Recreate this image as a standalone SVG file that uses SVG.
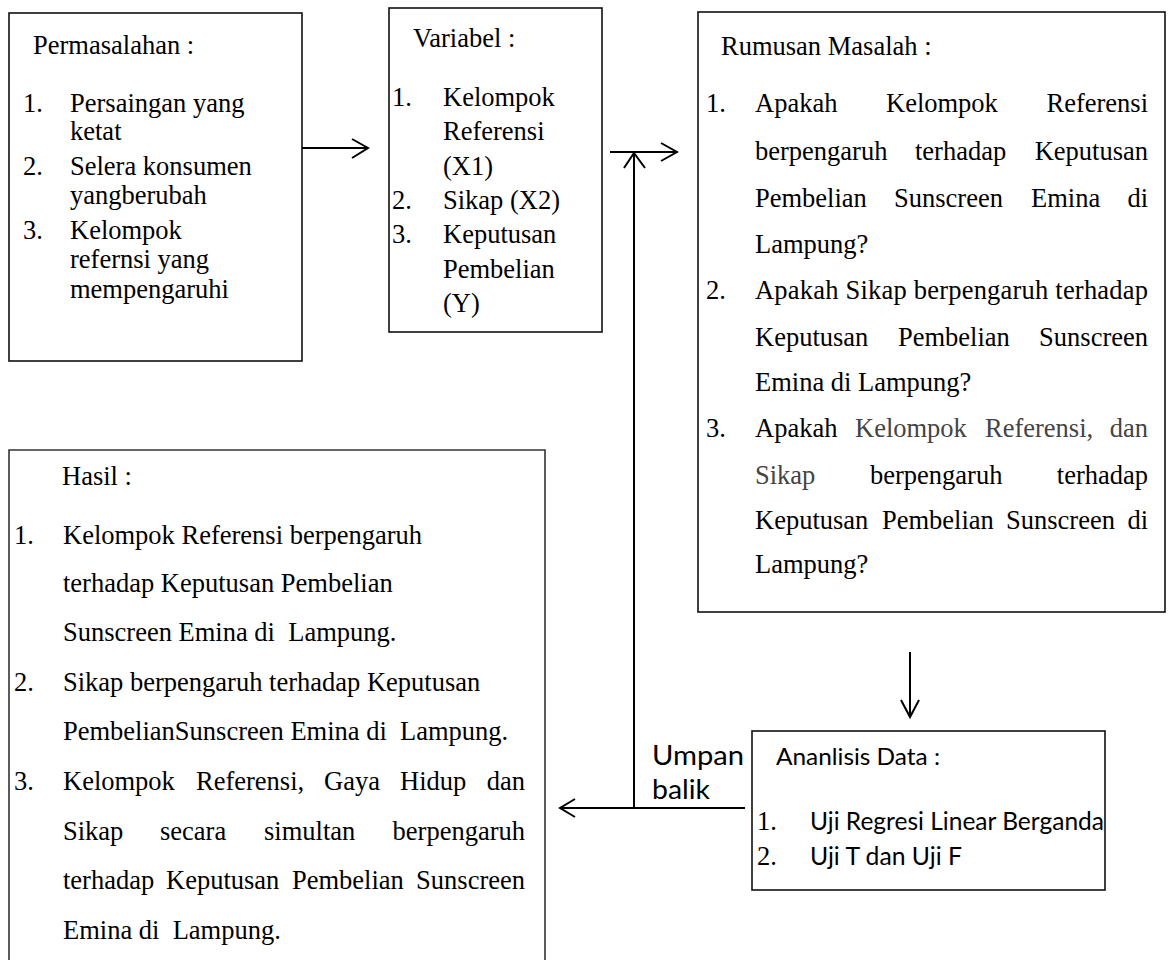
<svg xmlns="http://www.w3.org/2000/svg" width="1169" height="960" viewBox="0 0 1169 960">
<style>
.box{fill:#fff;stroke:#111;stroke-width:1.6}
.t{font-family:"Liberation Serif","Times New Roman",serif;font-size:26.5px;fill:#000;white-space:pre}
.s{font-family:Lato,"Liberation Sans",sans-serif;fill:#000}
.e{text-anchor:end}
.g{fill:#444}
.ln{fill:none;stroke:#000;stroke-width:2}
</style>
<rect width="1169" height="960" fill="#fff"/>
<g id="permasalahan">
<rect class="box" x="9" y="13" width="293" height="348"/>
<text class="t" x="33" y="54">Permasalahan :</text>
<text class="t" x="23" y="112">1.</text><text class="t" x="70" y="112">Persaingan yang</text>
<text class="t" x="70" y="140">ketat</text>
<text class="t" x="23" y="175">2.</text><text class="t" x="70" y="175">Selera konsumen</text>
<text class="t" x="70" y="204">yangberubah</text>
<text class="t" x="23" y="239">3.</text><text class="t" x="70" y="239">Kelompok</text>
<text class="t" x="70" y="268">refernsi yang</text>
<text class="t" x="70" y="298">mempengaruhi</text>
</g>
<g id="variabel">
<rect class="box" x="389" y="8" width="213" height="324"/>
<text class="t" x="413" y="47">Variabel :</text>
<text class="t" x="392" y="106">1.</text><text class="t" x="443" y="106">Kelompok</text>
<text class="t" x="443" y="140">Referensi</text>
<text class="t" x="443" y="175">(X1)</text>
<text class="t" x="392" y="209">2.</text><text class="t" x="443" y="209">Sikap (X2)</text>
<text class="t" x="392" y="243">3.</text><text class="t" x="443" y="243">Keputusan</text>
<text class="t" x="443" y="278">Pembelian</text>
<text class="t" x="443" y="312">(Y)</text>
</g>
<g id="rumusan">
<rect class="box" x="698" y="12" width="467" height="600"/>
<text class="t" x="721" y="55">Rumusan Masalah :</text>
<text class="t" x="706" y="112">1.</text>
<text class="t" x="755" y="112">Apakah</text><text class="t" x="886" y="112">Kelompok</text><text class="t e" x="1148" y="112">Referensi</text>
<text class="t" x="755" y="160">berpengaruh</text><text class="t" x="915" y="160">terhadap</text><text class="t e" x="1148" y="160">Keputusan</text>
<text class="t" x="755" y="207">Pembelian</text><text class="t" x="894" y="207">Sunscreen</text><text class="t" x="1031" y="207">Emina</text><text class="t e" x="1148" y="207">di</text>
<text class="t" x="755" y="253">Lampung?</text>
<text class="t" x="706" y="299">2.</text>
<text class="t" x="755" y="299" textLength="393" lengthAdjust="spacing">Apakah Sikap berpengaruh terhadap</text>
<text class="t" x="755" y="346">Keputusan</text><text class="t" x="898" y="346">Pembelian</text><text class="t e" x="1148" y="346">Sunscreen</text>
<text class="t" x="755" y="391">Emina di Lampung?</text>
<text class="t" x="706" y="437">3.</text>
<text class="t" x="755" y="437">Apakah</text><text class="t g" x="855" y="437">Kelompok</text><text class="t g" x="985" y="437">Referensi,</text><text class="t e g" x="1148" y="437">dan</text>
<text class="t g" x="755" y="484">Sikap</text><text class="t" x="870" y="484">berpengaruh</text><text class="t e" x="1148" y="484">terhadap</text>
<text class="t" x="755" y="529">Keputusan</text><text class="t" x="882" y="529">Pembelian</text><text class="t" x="1006" y="529">Sunscreen</text><text class="t e" x="1148" y="529">di</text>
<text class="t" x="755" y="573">Lampung?</text>
</g>
<g id="hasil">
<path d="M9,962 V450 H545 V962" fill="#fff" stroke="#333" stroke-width="1.6"/>
<text class="t" x="62" y="485">Hasil :</text>
<text class="t" x="14" y="544">1.</text><text class="t" x="63" y="544">Kelompok Referensi berpengaruh</text>
<text class="t" x="63" y="592">terhadap Keputusan Pembelian</text>
<text class="t" x="63" y="641">Sunscreen Emina di  Lampung.</text>
<text class="t" x="14" y="691">2.</text><text class="t" x="63" y="691">Sikap berpengaruh terhadap Keputusan</text>
<text class="t" x="63" y="740">PembelianSunscreen Emina di  Lampung.</text>
<text class="t" x="14" y="790">3.</text>
<text class="t" x="63" y="790">Kelompok</text><text class="t" x="196" y="790">Referensi,</text><text class="t" x="324" y="790">Gaya</text><text class="t" x="400" y="790">Hidup</text><text class="t e" x="525" y="790">dan</text>
<text class="t" x="63" y="840">Sikap</text><text class="t" x="160" y="840">secara</text><text class="t" x="264" y="840">simultan</text><text class="t e" x="525" y="840">berpengaruh</text>
<text class="t" x="63" y="889">terhadap</text><text class="t" x="166" y="889">Keputusan</text><text class="t" x="292" y="889">Pembelian</text><text class="t e" x="525" y="889">Sunscreen</text>
<text class="t" x="63" y="939">Emina di  Lampung.</text>
</g>
<g id="analisis">
<rect class="box" x="752" y="731" width="353" height="159"/>
<text class="s" x="776" y="765" font-size="23" textLength="164" lengthAdjust="spacingAndGlyphs">Ananlisis Data :</text>
<text class="t" x="757" y="830" font-size="22">1.</text>
<text class="s" x="810" y="830" font-size="25" textLength="294" lengthAdjust="spacingAndGlyphs">Uji Regresi Linear Berganda</text>
<text class="t" x="757" y="865" font-size="22">2.</text>
<text class="s" x="810" y="865" font-size="25" textLength="152" lengthAdjust="spacingAndGlyphs">Uji T dan Uji F</text>
</g>
<g id="umpan-balik">
<text class="s" x="652" y="765" font-size="27" textLength="92" lengthAdjust="spacingAndGlyphs">Umpan</text>
<text class="s" x="652" y="799" font-size="27" textLength="58" lengthAdjust="spacingAndGlyphs">balik</text>
</g>
<g id="connectors">
<path class="ln" d="M302,148 H368 M352,139 L368,148 L352,158"/>
<path class="ln" d="M610,152 H677 M661,143 L677,152 L661,161"/>
<path class="ln" d="M634,808 V153 M624,168 L634,153 L645,168"/>
<path class="ln" d="M745,808 H560 M575,799 L560,808 L575,817"/>
<path class="ln" d="M910,652 V717 M901,700 L910,717 L919,700"/>
</g>
</svg>
